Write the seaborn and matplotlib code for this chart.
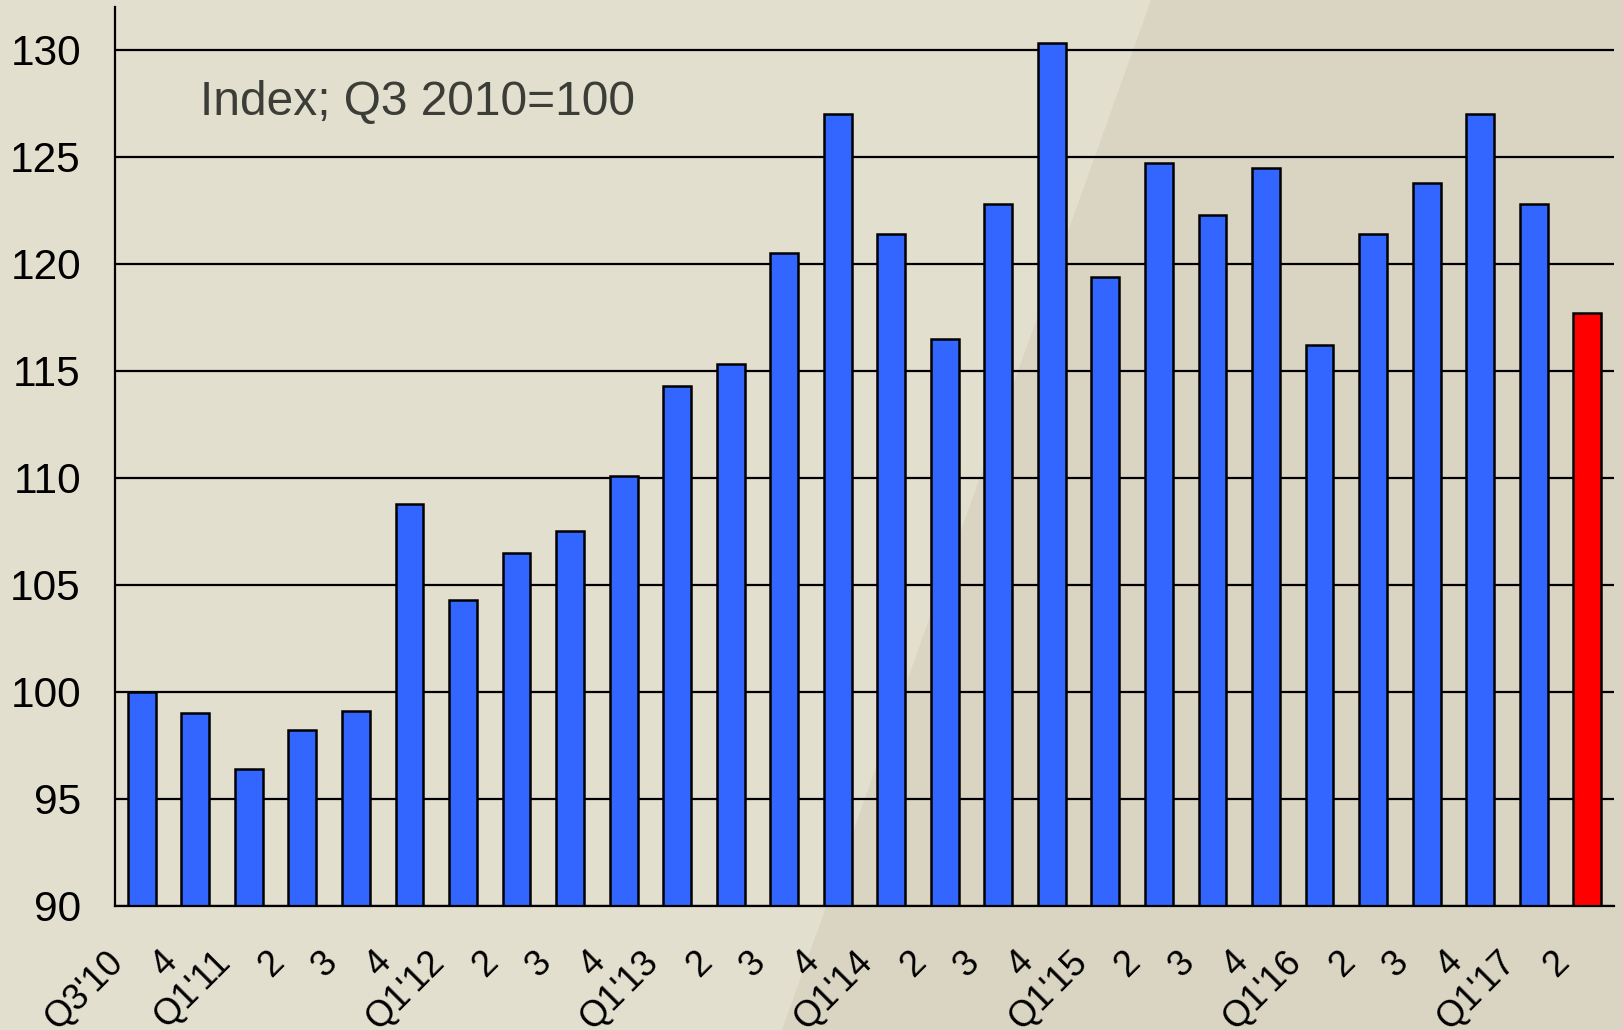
import matplotlib
matplotlib.use("Agg")
import matplotlib.pyplot as plt
from matplotlib.patches import Polygon
from matplotlib.transforms import ScaledTranslation
import seaborn as sns
import pandas as pd

quarters = ["Q3'10", "4", "Q1'11", "2", "3", "4", "Q1'12", "2", "3", "4",
            "Q1'13", "2", "3", "4", "Q1'14", "2", "3", "4", "Q1'15", "2",
            "3", "4", "Q1'16", "2", "3", "4", "Q1'17", "2"]
index_values = [100.0, 99.0, 96.4, 98.2, 99.1, 108.8, 104.3, 106.5, 107.5, 110.1,
                114.3, 115.3, 120.5, 127.0, 121.4, 116.5, 122.8, 130.3, 119.4, 124.7,
                122.3, 124.5, 116.2, 121.4, 123.8, 127.0, 122.8, 117.7]
bar_kind = ["actual"] * 27 + ["latest"]

df = pd.DataFrame({"pos": range(len(quarters)), "value": index_values, "kind": bar_kind})

sns.set_style("white")
plt.rcParams["font.family"] = ["Liberation Sans", "DejaVu Sans"]

W, H = 1623, 1030
fig = plt.figure(figsize=(W / 100, H / 100), dpi=100, facecolor="#e2dfce")
# darker diagonal wedge in the background
fig.patches.append(Polygon([(1151 / W, 1), (1, 1), (1, 0), (782 / W, 0)],
                           closed=True, transform=fig.transFigure,
                           facecolor="#dad5c2", edgecolor="none", zorder=-10))

ax = fig.add_axes([115 / W, 1 - 906 / H, 1499 / W, 899 / H])
ax.set_facecolor("none")

sns.barplot(data=df, x="pos", y="value", hue="kind", native_scale=True,
            palette={"actual": "#3366ff", "latest": "#ff0000"}, saturation=1,
            width=0.52, edgecolor="black", linewidth=1.8, legend=False, ax=ax)

ax.set_xlim(-0.5, len(quarters) - 0.5)
ax.set_ylim(90, 132)
ax.set_yticks(range(90, 131, 5))
ax.set_xticks([i - 0.5 for i in range(len(quarters) + 1)])
ax.set_xticklabels(quarters + [""], rotation=45, ha="right", va="center",
                   rotation_mode="anchor")
ax.set_xlabel("")
ax.set_ylabel("")

ax.yaxis.grid(True, color="black", linewidth=1.6)
ax.xaxis.grid(False)
ax.set_axisbelow(True)

for side in ["top", "right"]:
    ax.spines[side].set_visible(False)
for side in ["left", "bottom"]:
    ax.spines[side].set_color("black")
    ax.spines[side].set_linewidth(1.6)

ax.tick_params(axis="both", direction="inout", length=17, width=1.4,
               color="black", labelcolor="black")
ax.tick_params(axis="y", pad=16, labelsize=30.5)
ax.tick_params(axis="x", pad=28, labelsize=26)

# nudge the rotated quarter labels slightly to the right
shift = ScaledTranslation(0.03, 0, fig.dpi_scale_trans)
for lab in ax.get_xticklabels():
    lab.set_transform(lab.get_transform() + shift)

ax.text(0.0567, 0.880, "Index; Q3 2010=100", transform=ax.transAxes,
        fontsize=34.5, color="#3d3d38", ha="left", va="baseline")

fig.savefig("out.png", dpi=100)
